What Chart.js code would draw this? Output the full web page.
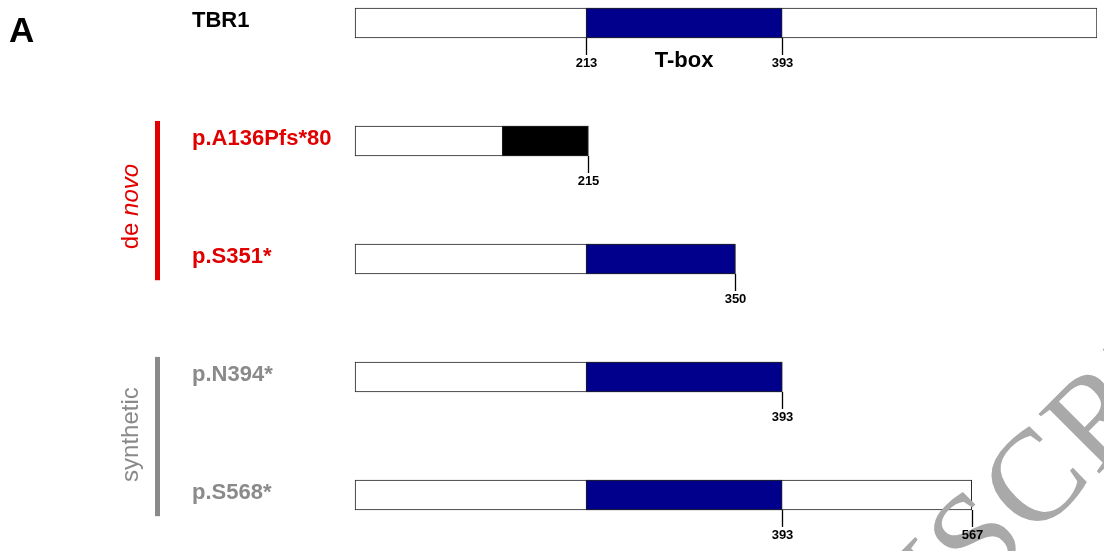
<!DOCTYPE html>
<html>
<head>
<meta charset="utf-8">
<script src="https://cdn.jsdelivr.net/npm/chart.js@4.4.1/dist/chart.umd.min.js"></script>
<style>
  body { margin: 0; background: #fff; }
  #wrap { width: 1104px; height: 551px; position: relative; }
</style>
</head>
<body>
<div id="wrap"><canvas id="chart"></canvas></div>
<script>
// one row per protein, positions in amino acids
const proteinNames = ["TBR1", "p.A136Pfs*80", "p.S351*", "p.N394*", "p.S568*"];
const proteinEnds = [682, 215, 350, 393, 567];
const tboxStart = [213, null, 213, 213, 213];
const tboxEnd = [393, null, 350, 393, 393];
const frameshiftStart = [null, 136, null, null, null];
const frameshiftEnd = [null, 215, null, null, null];
const positionLabels = [[213, 393], [215], [350], [393], [393, 567]];
const groupNames = ["de novo", "synthetic"];
const groupRows = [[1, 2], [3, 4]];

const RED = "#e10000";
const GREY = "#8a8a8a";
const nameColors = ["#000", RED, RED, GREY, GREY];
const groupColors = [RED, GREY];
const BAR = 30;

const tboxData = [];
const frameshiftData = [];
const baseData = [];
proteinNames.forEach((n, i) => {
  baseData.push({ x: [1, proteinEnds[i]], y: i });
  if (tboxStart[i] !== null) tboxData.push({ x: [tboxStart[i], tboxEnd[i]], y: i });
  if (frameshiftStart[i] !== null) frameshiftData.push({ x: [frameshiftStart[i], frameshiftEnd[i]], y: i });
});

const annotate = {
  id: "annotate",
  afterDatasetsDraw(chart) {
    const ctx = chart.ctx;
    // faint watermark in the corner
    ctx.save();
    ctx.font = '130px "Liberation Serif", serif';
    ctx.letterSpacing = "3px";
    ctx.fillStyle = "#a9a9a9";
    ctx.translate(1034, 478);
    ctx.rotate(-45 * Math.PI / 180);
    const off = ctx.measureText("MANUS").width + ctx.measureText("C").width / 2;
    ctx.textBaseline = "alphabetic";
    ctx.fillText("MANUSCRIPT", -off, 43);
    ctx.restore();
  },
  afterDraw(chart) {
    const ctx = chart.ctx;
    const xs = chart.scales.x;
    const ys = chart.scales.y;
    ctx.save();

    // amino-acid position ticks under the bars
    ctx.strokeStyle = "#000";
    ctx.lineWidth = 1.3;
    ctx.fillStyle = "#000";
    ctx.font = 'bold 13px "Liberation Sans Narrow", "Liberation Sans", sans-serif';
    ctx.textAlign = "center";
    ctx.textBaseline = "middle";
    positionLabels.forEach((list, row) => {
      const bottom = ys.getPixelForValue(row) + BAR / 2;
      list.forEach(pos => {
        const px = Math.round(xs.getPixelForValue(pos)) + 0.5;
        ctx.beginPath();
        ctx.moveTo(px, bottom);
        ctx.lineTo(px, bottom + 17);
        ctx.stroke();
        ctx.fillText(String(pos), px, bottom + 25);
      });
    });

    // domain name
    ctx.font = 'bold 22px "Liberation Sans", Arial, sans-serif';
    ctx.fillText("T-box", xs.getPixelForValue((tboxStart[0] + tboxEnd[0]) / 2),
      ys.getPixelForValue(0) + BAR / 2 + 23);

    // protein names
    ctx.textAlign = "left";
    ctx.textBaseline = "alphabetic";
    proteinNames.forEach((n, i) => {
      ctx.fillStyle = nameColors[i];
      ctx.fillText(n, 192, ys.getPixelForValue(i) + 4);
    });

    // group brackets
    groupNames.forEach((g, k) => {
      const top = ys.getPixelForValue(groupRows[k][0] - 0.17);
      const bot = ys.getPixelForValue(groupRows[k][1] + 0.18);
      ctx.fillStyle = groupColors[k];
      ctx.fillRect(155, top, 5, bot - top);
      ctx.save();
      ctx.translate(131, (top + bot) / 2 + (k === 0 ? 6 : -2));
      ctx.rotate(-Math.PI / 2);
      ctx.textBaseline = "middle";
      if (k === 0) {
        ctx.font = '24px "Liberation Sans", Arial, sans-serif';
        const w1 = ctx.measureText("de ").width;
        ctx.font = 'italic 24px "Liberation Sans", Arial, sans-serif';
        const w2 = ctx.measureText("novo").width;
        ctx.textAlign = "left";
        ctx.font = '24px "Liberation Sans", Arial, sans-serif';
        ctx.fillText("de ", -(w1 + w2) / 2, 0);
        ctx.font = 'italic 24px "Liberation Sans", Arial, sans-serif';
        ctx.fillText("novo", -(w1 + w2) / 2 + w1, 0);
      } else {
        ctx.font = '24px "Liberation Sans", Arial, sans-serif';
        ctx.textAlign = "center";
        ctx.fillText(g, 0, 0);
      }
      ctx.restore();
    });

    // panel letter
    ctx.fillStyle = "#000";
    ctx.font = 'bold 35px "Liberation Sans", Arial, sans-serif';
    ctx.textAlign = "left";
    ctx.fillText("A", 9, 42);
    ctx.restore();
  }
};

new Chart(document.getElementById("chart"), {
  type: "bar",
  data: {
    datasets: [
      { label: "T-box", data: tboxData, backgroundColor: "#00008c" },
      { label: "frameshift", data: frameshiftData, backgroundColor: "#000" },
      { label: "protein", data: baseData, backgroundColor: "#fff" }
    ]
  },
  options: {
    indexAxis: "y",
    responsive: true,
    maintainAspectRatio: false,
    animation: false,
    grouped: false,
    barThickness: BAR,
    borderColor: "#222",
    borderWidth: 1,
    borderSkipped: false,
    layout: { padding: { left: 354, right: 7, top: 0, bottom: 0 } },
    scales: {
      x: { type: "linear", min: 0, max: 682, offset: false, display: false },
      y: { type: "linear", min: -0.195, max: 4.475, reverse: true, offset: false, display: false }
    },
    plugins: {
      legend: { display: false },
      tooltip: { enabled: false }
    }
  },
  plugins: [annotate]
});
</script>
</body>
</html>
